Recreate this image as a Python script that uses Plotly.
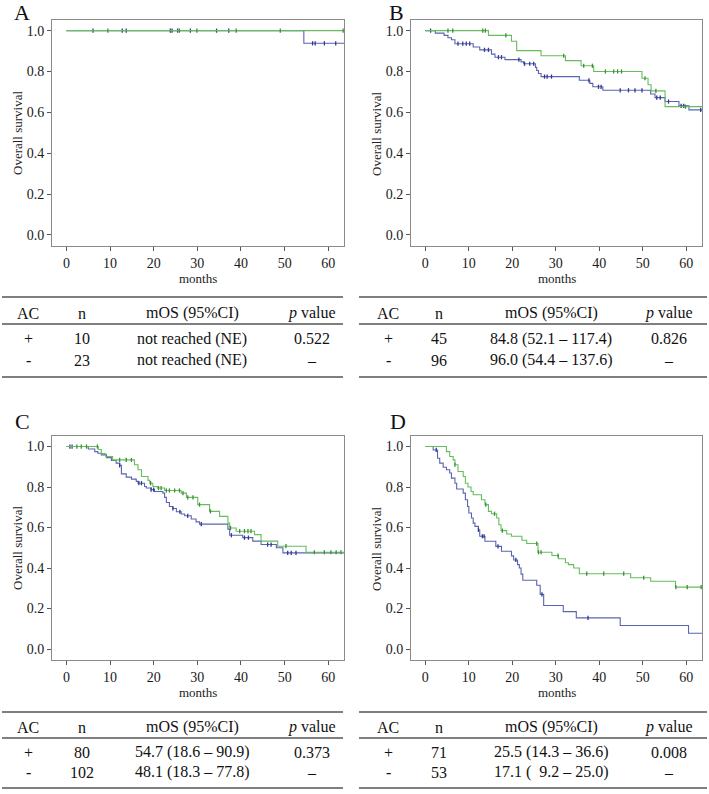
import numpy as np
import plotly.graph_objects as go

W, H = 709, 794
FONT = "Liberation Serif"
GREEN = "#66bd5e"
BLUE = "#5a64b2"
GREEN_DARK = "#3f8f3a"
BLUE_DARK = "#2f3a8c"

# ---------------- data ----------------
# Panel A
A_pos_t = [0]
A_pos_s = [1.0]
A_pos_c = [9.5, 25.9, 29.9, 38.9, 49.0, 63.4]
A_neg_t = [0, 54.4]
A_neg_s = [1.0, 0.938]
A_neg_c = [6.1, 12.8, 13.7, 23.8, 24.2, 25.5, 28.4, 34.4, 37.2, 56.4, 57.0, 59.1, 61.7]

# Panel B
B_pos_t = [0, 14.5, 19.8, 21.0, 26.6, 32.2, 35.8, 38.7, 49.8, 51.2, 51.9, 55.1]
B_pos_s = [1.0, 0.977, 0.948, 0.902, 0.877, 0.853, 0.828, 0.80, 0.767, 0.735, 0.705, 0.628]
B_pos_c = [5.2, 6.3, 13.2, 13.8, 18.5, 31.8, 36.4, 38.4, 41.4, 43.3, 44.2, 45.1, 50.5, 53.0, 59.8]
B_neg_t = [0, 2.3, 4.3, 5.2, 6.0, 6.8, 11.0, 12.5, 15.2, 16.0, 18.3, 22.0, 22.6, 25.3, 25.6,
           26.0, 26.6, 35.4, 37.8, 38.5, 40.8, 51.8, 52.8, 55.1, 58.3, 60.6]
B_neg_s = [1.0, 0.988, 0.977, 0.965, 0.955, 0.936, 0.92, 0.906, 0.885, 0.870, 0.858, 0.847, 0.838,
           0.82, 0.805, 0.79, 0.775, 0.757, 0.742, 0.725, 0.708, 0.69, 0.672, 0.653, 0.632, 0.612]
B_neg_c = [1.2, 7.5, 8.6, 9.4, 10.2, 13.6, 14.5, 16.8, 17.5, 21.5, 22.8, 24.0, 24.9, 27.4, 28.0,
           29.0, 37.6, 39.8, 40.4, 44.8, 46.7, 48.2, 49.8, 53.2, 54.0, 55.9, 58.8, 59.4, 63.3]

# Panel C
C_pos_t = [0, 7.3, 8.0, 9.0, 10.6, 15.6, 16.4, 17.2, 18.7, 19.1, 19.8, 20.8, 22.5, 26.3, 27.5,
           30.1, 32.8, 35.1, 37.0, 37.4, 38.9, 43.1, 44.6, 48.4, 54.9]
C_pos_s = [1.0, 0.985, 0.965, 0.95, 0.934, 0.91, 0.885, 0.852, 0.833, 0.819, 0.803, 0.795, 0.783,
           0.770, 0.749, 0.713, 0.68, 0.655, 0.622, 0.598, 0.582, 0.565, 0.533, 0.508, 0.478]
C_pos_c = [2.4, 3.4, 4.6, 7.1, 12.2, 13.7, 14.9, 19.3, 21.1, 21.7, 22.9, 23.6, 24.8, 25.9, 26.7,
           27.8, 29.0, 30.5, 33.0, 37.6, 39.7, 40.8, 41.6, 42.3, 50.3, 56.8, 59.1, 60.6, 61.8, 62.9]
C_neg_t = [0, 5.0, 6.5, 7.2, 8.0, 9.2, 10.3, 11.4, 12.2, 12.6, 13.7, 14.9, 16.0, 16.4, 17.9, 18.3,
           19.4, 20.2, 22.1, 22.5, 22.9, 23.6, 24.4, 25.2, 26.3, 27.1, 28.6, 29.7, 30.5, 37.0,
           37.4, 40.4, 42.7, 44.6, 48.1, 49.6]
C_neg_s = [1.0, 0.988, 0.975, 0.967, 0.959, 0.945, 0.931, 0.918, 0.907, 0.865, 0.849, 0.839, 0.828,
           0.819, 0.803, 0.795, 0.787, 0.778, 0.770, 0.749, 0.724, 0.704, 0.694, 0.678, 0.667,
           0.658, 0.642, 0.628, 0.617, 0.592, 0.562, 0.55, 0.533, 0.516, 0.50, 0.475]
C_neg_c = [0.8, 1.3, 12.2, 16.6, 17.2, 19.4, 20.0, 24.4, 26.0, 27.8, 30.9, 37.8, 40.8, 41.7,
           46.1, 46.9, 50.7, 51.5, 52.6]

# Panel D
D_pos_t = [0, 4.85, 5.6, 6.4, 6.8, 7.5, 8.7, 9.2, 9.8, 10.5, 11.0, 12.9, 13.7, 14.5, 15.2, 16.4,
           16.9, 17.4, 18.7, 19.8, 22.2, 23.3, 25.9, 29.1, 30.6, 32.2, 32.9, 34.1, 35.4, 47.2,
           51.8, 57.5]
D_pos_s = [1.0, 0.975, 0.951, 0.934, 0.910, 0.877, 0.852, 0.819, 0.80, 0.778, 0.762, 0.737, 0.713,
           0.680, 0.668, 0.647, 0.614, 0.585, 0.568, 0.557, 0.537, 0.521, 0.478, 0.462, 0.446,
           0.426, 0.417, 0.40, 0.372, 0.352, 0.335, 0.306]
D_pos_c = [6.8, 13.9, 15.9, 17.7, 25.6, 26.0, 26.6, 30.5, 37.1, 41.0, 45.6, 50.2, 57.6, 60.2, 63.4]
D_neg_t = [0, 1.8, 2.8, 3.3, 4.1, 4.85, 5.6, 6.0, 6.8, 7.2, 8.7, 9.2, 9.7, 10.0, 10.6, 11.0, 11.4,
           12.2, 12.5, 13.7, 16.2, 17.5, 19.8, 20.3, 21.2, 21.6, 22.0, 22.4, 25.6, 26.4, 27.2,
           31.7, 34.7, 44.8, 60.5]
D_neg_s = [1.0, 0.983, 0.942, 0.918, 0.898, 0.885, 0.869, 0.844, 0.819, 0.790, 0.770, 0.737, 0.704,
           0.672, 0.647, 0.622, 0.606, 0.589, 0.557, 0.532, 0.507, 0.483, 0.46, 0.44, 0.417, 0.40,
           0.37, 0.34, 0.315, 0.27, 0.215, 0.185, 0.154, 0.116, 0.078]
D_neg_c = [2.5, 12.2, 13.1, 13.5, 16.7, 20.8, 26.8, 37.4]

# Tables
tbl_header = ["AC", "n", "mOS (95%CI)", "<i>p</i> value"]
A_rows = [["+", "10", "not reached (NE)", "0.522"], ["-", "23", "not reached (NE)", "–"]]
B_rows = [["+", "45", "84.8 (52.1 – 117.4)", "0.826"], ["-", "96", "96.0 (54.4 – 137.6)", "–"]]
C_rows = [["+", "80", "54.7 (18.6 – 90.9)", "0.373"], ["-", "102", "48.1 (18.3 – 77.8)", "–"]]
D_rows = [["+", "71", "25.5 (14.3 – 36.6)", "0.008"], ["-", "53", "17.1 (  9.2 – 25.0)", "–"]]

x_ticks = [0, 10, 20, 30, 40, 50, 60]
y_ticks = [0.0, 0.2, 0.4, 0.6, 0.8, 1.0]
END_T = 64.0

# ---------------- layout constants (pixels) ----------------
panels = [
    dict(letter="A", lx=22, ly=1, box=(52, 344, 20, 246), pos=(A_pos_t, A_pos_s, A_pos_c),
         neg=(A_neg_t, A_neg_s, A_neg_c), rows=A_rows, cols=[28, 82, 192, 312], line=(2, 343),
         ty=(297, 313, 324, 339, 360, 377)),
    dict(letter="B", lx=396, ly=1, box=(411, 702, 20, 246), pos=(B_pos_t, B_pos_s, B_pos_c),
         neg=(B_neg_t, B_neg_s, B_neg_c), rows=B_rows, cols=[388, 439, 551, 669], line=(359, 707),
         ty=(297, 313, 324, 339, 360, 377)),
    dict(letter="C", lx=22, ly=410, box=(52, 344, 436, 660), pos=(C_pos_t, C_pos_s, C_pos_c),
         neg=(C_neg_t, C_neg_s, C_neg_c), rows=C_rows, cols=[28, 82, 192, 312], line=(2, 343),
         ty=(712, 727, 738, 752, 772, 788)),
    dict(letter="D", lx=398, ly=410, box=(411, 702, 436, 660), pos=(D_pos_t, D_pos_s, D_pos_c),
         neg=(D_neg_t, D_neg_s, D_neg_c), rows=D_rows, cols=[388, 439, 551, 669], line=(359, 707),
         ty=(712, 727, 738, 752, 772, 788)),
]


def px(x):
    return x / W


def py(y):
    return 1 - y / H


fig = go.Figure()
annotations = []
shapes = []

for i, p in enumerate(panels):
    n = i + 1
    xa = "x" if n == 1 else f"x{n}"
    ya = "y" if n == 1 else f"y{n}"
    l, r, t, b = p["box"]
    for grp, col, dark in ((p["neg"], BLUE, BLUE_DARK), (p["pos"], GREEN, GREEN_DARK)):
        tt, ss, cc = grp
        xs = list(tt) + [END_T]
        ys = list(ss) + [ss[-1]]
        fig.add_trace(go.Scatter(x=xs, y=ys, mode="lines", line=dict(color=col, width=1.1, shape="hv"),
                                 xaxis=xa, yaxis=ya, showlegend=False, hoverinfo="skip"))
        idx = np.searchsorted(np.array(tt), np.array(cc), side="right") - 1
        cy = [ss[k] for k in idx]
        fig.add_trace(go.Scatter(x=cc, y=cy, mode="markers",
                                 marker=dict(symbol="line-ns", size=3, line=dict(color=dark, width=1.3)),
                                 xaxis=xa, yaxis=ya, showlegend=False, hoverinfo="skip", cliponaxis=False))
    axis_common = dict(showline=True, linecolor="#8a8a8a", linewidth=1, mirror=True, showgrid=False,
                       zeroline=False, ticks="outside", ticklen=4, tickcolor="#555",
                       tickfont=dict(family=FONT, size=14, color="#1a1a1a"))
    fig.layout[f"xaxis{'' if n == 1 else n}"] = dict(
        axis_common, domain=[px(l), px(r)], range=[-3.3, 63.6], anchor=ya,
        tickvals=x_ticks, ticktext=[str(v) for v in x_ticks])
    fig.layout[f"yaxis{'' if n == 1 else n}"] = dict(
        axis_common, domain=[py(b), py(t)], range=[-0.054, 1.052], anchor=xa,
        tickvals=y_ticks, ticktext=[f"{v:.1f}" for v in y_ticks])
    # panel letter (explicit box height keeps its box tight around the capital)
    annotations.append(dict(text=p["letter"], x=px(p["lx"]), y=py(p["ly"]), xref="paper", yref="paper",
                            xanchor="center", yanchor="top", showarrow=False, height=20, borderpad=0,
                            font=dict(family=FONT, size=22, color="#111")))
    # axis titles
    annotations.append(dict(text="Overall survival", x=px(l - 35), y=py((t + b) / 2), xref="paper",
                            yref="paper", textangle=-90, xanchor="center", yanchor="middle",
                            showarrow=False, font=dict(family=FONT, size=13, color="#222")))
    annotations.append(dict(text="months", x=px((l + r) / 2), y=py(b + 32), xref="paper", yref="paper",
                            xanchor="center", yanchor="middle", showarrow=False,
                            font=dict(family=FONT, size=13, color="#222")))
    # table
    x0, x1 = p["line"]
    top, hy, mid, r1, r2, bot = p["ty"]
    for yy in (top, mid, bot):
        shapes.append(dict(type="line", xref="paper", yref="paper", x0=px(x0), x1=px(x1),
                           y0=py(yy), y1=py(yy), line=dict(color="#555", width=1.4)))
    for cx, txt in zip(p["cols"], tbl_header):
        annotations.append(dict(text=txt, x=px(cx), y=py(hy), xref="paper", yref="paper",
                                xanchor="center", yanchor="middle", showarrow=False,
                                font=dict(family=FONT, size=16, color="#111")))
    for ry, row in zip((r1, r2), p["rows"]):
        for cx, txt in zip(p["cols"], row):
            annotations.append(dict(text=txt, x=px(cx), y=py(ry), xref="paper", yref="paper",
                                    xanchor="center", yanchor="middle", showarrow=False,
                                    font=dict(family=FONT, size=16, color="#111")))

fig.update_layout(width=W, height=H, margin=dict(l=0, r=0, t=0, b=0),
                  paper_bgcolor="white", plot_bgcolor="white",
                  annotations=annotations, shapes=shapes, showlegend=False)

fig.write_html("out.html")
